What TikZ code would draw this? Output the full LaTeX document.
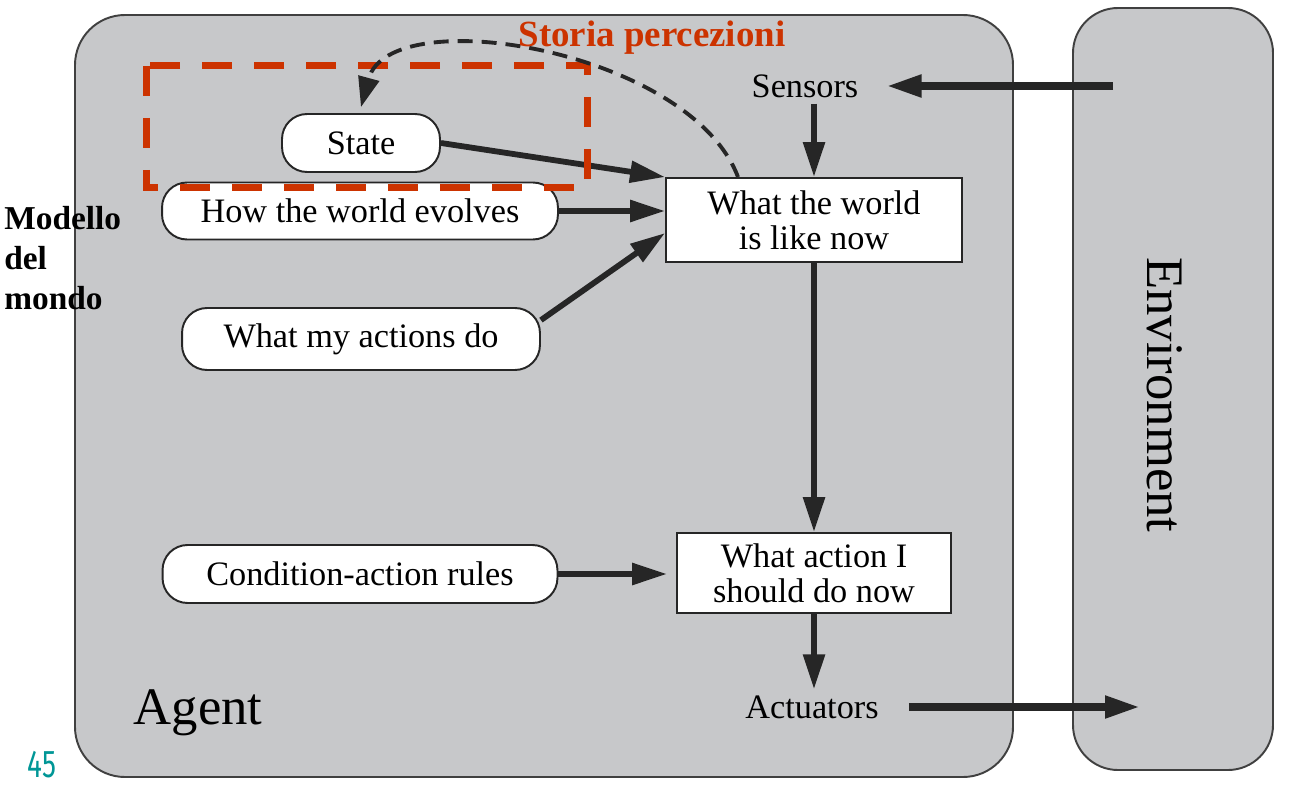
\documentclass[tikz,border=0pt]{standalone}
\usepackage{fontspec}
\setmainfont{Liberation Serif}
\newfontfamily\slidefont{Fira Sans}
\usepackage{graphicx}
\usetikzlibrary{positioning, calc, arrows.meta}
\definecolor{agentgray}{RGB}{199,200,202}
\definecolor{storiared}{RGB}{204,51,0}
\definecolor{pageteal}{RGB}{0,150,150}

\begin{document}
\begin{tikzpicture}[x=0.02cm, y=-0.02cm]
\tikzset{rulebox/.style={
    rectangle, rounded corners=0.5cm, draw=black!85, line width=1.1pt, fill=white, inner sep=0pt, font=\fontsize{19.5}{20}\selectfont},
    stagebox/.style={
    rectangle, draw=black!85, line width=1.1pt, fill=white, inner sep=0pt, align=center, font=\fontsize{19.5}{20}\selectfont},
    flow/.style={draw=black!85, line width=3.3pt, -{Triangle[length=0.7cm,width=0.42cm]}},
    envflow/.style={flow, line width=4.4pt},
    recall/.style={draw=black!85, line width=2.2pt, dash pattern=on 0.3cm off 0.18cm, -{Triangle[length=0.6cm,width=0.42cm]}},
    storia/.style={draw=storiared, line width=0.14cm, dash pattern=on 0.6cm off 0.44cm}
}

    \useasboundingbox (0,0) rectangle (1291,787);

    % agent and environment
    \draw[fill=agentgray, draw=black!75, line width=1.1pt, rounded corners=1cm] (75,15) rectangle (1013,777);
    \draw[fill=agentgray, draw=black!75, line width=1.1pt, rounded corners=0.9cm] (1073,8) rectangle (1273,770);

    \node[rulebox, minimum width=3.16cm, minimum height=1.16cm] (state) at (361,143) {State};
    \node[rulebox, minimum width=7.92cm, minimum height=1.14cm] (evolves) at (360,211) {How the world evolves};
    \node[rulebox, minimum width=7.16cm, minimum height=1.24cm] (actions) at (361,339) {What my actions do};
    \node[rulebox, minimum width=7.9cm, minimum height=1.16cm] (rules) at (360,574) {Condition-action rules};

    \node[stagebox, minimum width=5.92cm, minimum height=1.68cm] (world) at (814,220) {What the world\\is like now};
    \node[stagebox, minimum width=5.48cm, minimum height=1.6cm] (action) at (814,573) {What action I\\should do now};

    \node[font=\fontsize{19.5}{20}\selectfont] (sensors) at (805,86) {Sensors};
    \node[font=\fontsize{19.5}{20}\selectfont] (actuators) at (812,707) {Actuators};

    \coordinate (env_sense) at (1113,0 |- sensors.east);
    \coordinate (env_act) at (1140,0 |- actuators.east);

    % connectors
    \draw[flow] (world.north |- sensors.south) -- (world.north);
    \draw[flow] (state.east) -- (world.north west);
    \draw[flow] (evolves.east) -- (evolves.east -| world.west);
    \draw[flow] (actions.6) -- (world.185);
    \draw[flow] (world.south) -- (action.north);
    \draw[flow, shorten >=0.18cm] (rules.east) -- (rules.east -| action.west);
    \draw[flow] (action.south) -- (action.south |- actuators.north);

    \draw[envflow, shorten >=0.44cm] (env_sense) -- (sensors.east);
    \draw[envflow, shorten <=0.48cm] (actuators.east) -- (env_act);

    % percept history
    \draw[storia] (146,66) rectangle (587,188);
    \draw[recall] ($(world.north)+(-76,0)$) .. controls (690,50) and (390,0) .. ($(state.north)+(0,-6)$);

    \node[text=storiared, font=\bfseries\fontsize{21}{24}\selectfont] (storia_label) at (652,38) {Storia percezioni};
    \node[anchor=west, align=left, inner sep=0pt, font=\bfseries\fontsize{19}{22.8}\selectfont] (modello_label) at (4,258) {Modello\\del\\mondo};
    \node[font=\fontsize{30}{32}\selectfont] (agent_label) at (198,713) {Agent};
    \node[rotate=-90, font=\fontsize{30}{32}\selectfont] (env_label) at (1165,395) {Environment};
    \node[text=pageteal, font=\slidefont\fontsize{22}{24}\selectfont] (page_num) at (42,765) {\scalebox{0.72}[1]{45}};

\end{tikzpicture}
\end{document}
